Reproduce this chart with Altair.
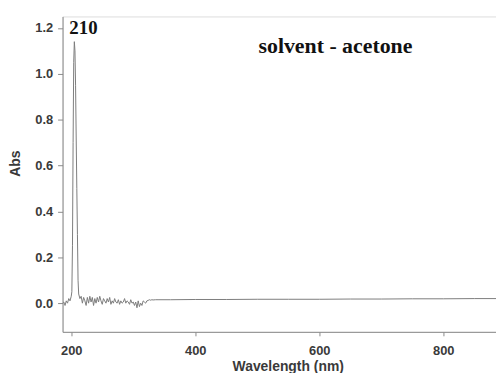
import altair as alt
import pandas as pd

# Spectrum (wavelength nm, absorbance)
wavelength = [186, 188, 190, 192, 194, 196, 198, 200, 201, 202, 203, 204, 205, 206, 207, 208,
              209, 210, 211, 212, 214, 216, 218, 220, 222, 224, 226, 228, 230, 232, 234, 236,
              238, 240, 242, 244, 246, 248, 250, 252, 254, 256, 258, 260, 262, 264, 266, 268,
              270, 272, 274, 276, 278, 280, 282, 284, 286, 288, 290, 292, 294, 296, 298, 300,
              302, 304, 306, 308, 310, 312, 314, 316, 318, 320, 322, 324, 326, 328, 330, 332,
              336, 340, 360, 400, 450, 500, 550, 600, 650, 700, 750, 800, 850, 885]
absorb = [0.00, 0.005, -0.01, 0.01, 0.00, 0.02, 0.01, 0.03, 0.05, 0.25, 0.70, 1.05, 1.14, 1.10, 0.95, 0.72,
          0.50, 0.30, 0.10, 0.04, 0.02, 0.03, 0.00, 0.025, 0.01, -0.01, 0.025, 0.00, 0.03, 0.005, 0.025, -0.01,
          0.02, 0.00, 0.025, 0.005, 0.03, 0.01, -0.005, 0.02, 0.01, 0.00, 0.02, 0.005, 0.025, -0.005, 0.01, 0.00,
          0.02, 0.005, 0.00, 0.015, -0.005, 0.01, 0.00, 0.005, 0.02, 0.00, 0.01, 0.005, -0.005, 0.015, 0.00, 0.005,
          -0.01, 0.005, -0.02, 0.01, -0.015, 0.00, -0.01, 0.01, 0.005, 0.00, 0.01, 0.012, 0.015, 0.013, 0.015, 0.014,
          0.015, 0.015, 0.015, 0.016, 0.016, 0.017, 0.017, 0.017, 0.018, 0.018, 0.019, 0.019, 0.02, 0.02]

x_ticks = [200, 400, 600, 800]
y_ticks = [0.0, 0.2, 0.4, 0.6, 0.8, 1.0, 1.2]

ann_x = [197, 502]
ann_y = [1.2, 1.122]
ann_text = ["210", "solvent - acetone"]
ann_size = [19, 22]

df = pd.DataFrame({"wl": wavelength, "abs": absorb})
ann = pd.DataFrame({"x": ann_x, "y": ann_y, "t": ann_text, "s": ann_size})

xscale = alt.Scale(domain=[186, 885], nice=False, zero=False)
yscale = alt.Scale(domain=[-0.125, 1.25], nice=False, zero=False)

line = alt.Chart(df).mark_line(color="#7c7c7c", strokeWidth=1, clip=True).encode(
    x=alt.X("wl:Q", scale=xscale,
            axis=alt.Axis(title="Wavelength (nm)", values=x_ticks, grid=False, domainColor="#8a8a8a",
                          tickColor="#8a8a8a", tickSize=4, labelPadding=9, labelFontSize=13,
                          labelFontWeight="bold", labelColor="#3a3a3a", labelFont="Liberation Sans",
                          titleFont="Liberation Sans", titleFontSize=14, titleFontWeight="bold",
                          titleColor="#3a3a3a", titlePadding=2, titleX=227, labelFlush=False)),
    y=alt.Y("abs:Q", scale=yscale,
            axis=alt.Axis(title="Abs", values=y_ticks, format=".1f", grid=False, domainColor="#8a8a8a",
                          tickColor="#8a8a8a", tickSize=5, labelPadding=5, labelFontSize=13,
                          labelFontWeight="bold", labelColor="#3a3a3a", labelFont="Liberation Sans",
                          titleFont="Liberation Sans", titleFontSize=14, titleFontWeight="bold",
                          titleColor="#3a3a3a", titleY=148, titlePadding=12, labelFlush=False)),
)

text = alt.Chart(ann).mark_text(align="left", baseline="middle", font="Liberation Serif",
                                fontWeight="bold", color="#111111").encode(
    x=alt.X("x:Q", scale=xscale), y=alt.Y("y:Q", scale=yscale), text="t:N",
    size=alt.Size("s:Q", scale=None, legend=None))

chart = (line + text).properties(
    width=437, height=318,
    autosize=alt.AutoSizeParams(type="none"),
    padding={"left": 55, "top": 7, "right": 0, "bottom": 40},
).configure_view(stroke=None).configure(background="white")

chart.save("out.html", embed_options={"renderer": "svg", "actions": False})
